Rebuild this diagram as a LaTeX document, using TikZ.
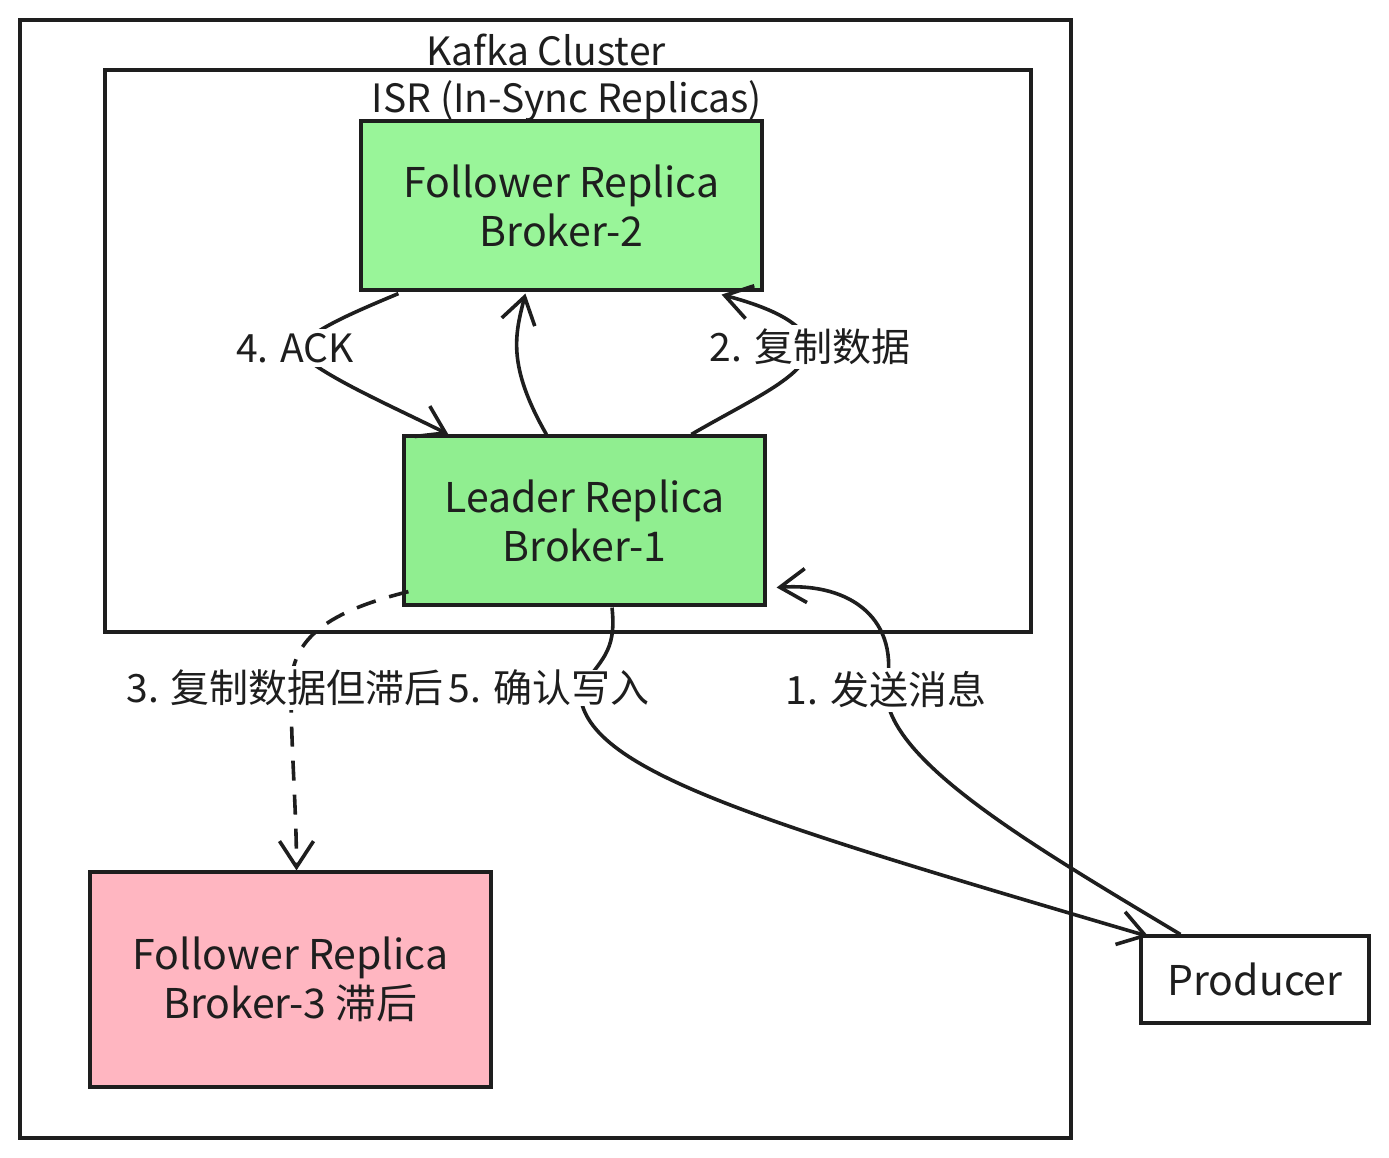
\documentclass[tikz,border=0pt]{standalone}
\usepackage{fontspec}
\setmainfont{Noto Sans CJK SC}
\usetikzlibrary{arrows.meta,calc}
\definecolor{ink}{HTML}{1E1E1E}
\definecolor{bgreen}{HTML}{99F599}
\definecolor{lgreen}{HTML}{90EE90}
\definecolor{lpink}{HTML}{FFB6C1}
\begin{document}
\begin{tikzpicture}[x=0.5pt,y=-0.5pt,
  frame/.style={draw=ink, line width=1.6pt, inner sep=0pt},
  box/.style={draw=ink, line width=1.6pt, inner sep=0pt, align=center,
    font=\fontsize{20.5}{24.5}\selectfont, text=ink},
  conn/.style={draw=ink, line width=1.8pt,
    -{Straight Barb[length=13pt,width=17pt,line width=1.8pt]}},
  lagline/.style={conn, dash pattern=on 10pt off 7pt},
  lbl/.style={fill=white, inner sep=2pt, font=\fontsize{19.5}{22}\selectfont, text=ink},
  ttl/.style={inner sep=0pt, font=\fontsize{19.5}{22}\selectfont, text=ink}]
\useasboundingbox (0,0) rectangle (1389,1158);

% containers
\node[frame, minimum width=525.5pt, minimum height=559pt] (cluster) at (545.5,579) {};
\node[frame, minimum width=463pt, minimum height=281pt] (isr) at (568,351) {};
\node[ttl] (clusterl) at (546,50) {Kafka Cluster};
\node[ttl] (isrl) at (567,101) {ISR (In-Sync Replicas)};

% boxes
\node[box, fill=bgreen, minimum width=200.5pt, minimum height=84.5pt] (b2) at (561.5,205.5)
  {Follower Replica\\Broker-2};
\node[box, fill=lgreen, minimum width=180.5pt, minimum height=84.5pt] (b1) at (584.5,520.5)
  {Leader Replica\\Broker-1};
\node[box, fill=lpink, minimum width=200.5pt, minimum height=107.5pt] (b3) at (290.5,979.5)
  {Follower Replica\\Broker-3 滞后};
\node[box, fill=white, minimum width=114pt, minimum height=43.5pt] (prod) at (1255,979.5)
  {Producer};

% label anchor points
\coordinate (ackc) at (295,348);
\coordinate (repc) at (810,347);
\coordinate (lagc) at (291,688);
\coordinate (cfmc) at (580,690);
\coordinate (sndc) at (886,690);

% 4. ACK
\draw[conn] ($(b2.south west)+(39,2)$) .. controls +(-60,25) and +(25,-20) .. (ackc)
  .. controls +(20,25) and +(-60,-30) .. ($(b1.north west)+(46,0)$);
% leader -> broker-2
\draw[conn] ($(b1.north west)+(144,0)$) .. controls +(-40,-70) and +(-10,40) .. ($(b2.south west)+(166,2)$);
% 2. replicate
\draw[conn] ($(b1.north west)+(289,0)$) .. controls +(60,-35) and +(-5,30) .. (repc)
  .. controls +(-5,-25) and +(45,12) .. ($(b2.south east)+(-42,3)$);
% 3. lagging replication
\draw[lagline] ($(b1.south west)+(6,-15)$) .. controls +(-80,20) and +(0,-50) .. (lagc)
  .. controls +(0,60) and +(0,-60) .. ($(b3.north)+(6,0)$);
% 5. confirm
\draw[conn] ($(b1.south)+(27.5,1)$) .. controls +(5,45) and +(20,-30) .. (cfmc)
  .. controls +(0,80) and +(-390,-115) .. ($(prod.north west)+(9,2)$);
% 1. send
\draw[conn] ($(prod.north west)+(41,0)$) .. controls +(-150,-90) and +(0,70) .. (sndc)
  .. controls +(15,-70) and +(75,-5) .. ($(b1.east)+(10,67)$);

% labels
\node[lbl] (ackl) at (ackc) {4. ACK};
\node[lbl] (repl) at (repc) {2. 复制数据};
\node[lbl] (lagl) at ($(lagc)+(-6,0)$) {3. 复制数据但滞后};
\node[lbl, inner sep=0pt] (cfml) at ($(cfmc)+(-31,-2)$) {5. 确认写入};
\node[lbl] (sndl) at (sndc) {1. 发送消息};
\end{tikzpicture}
\end{document}
